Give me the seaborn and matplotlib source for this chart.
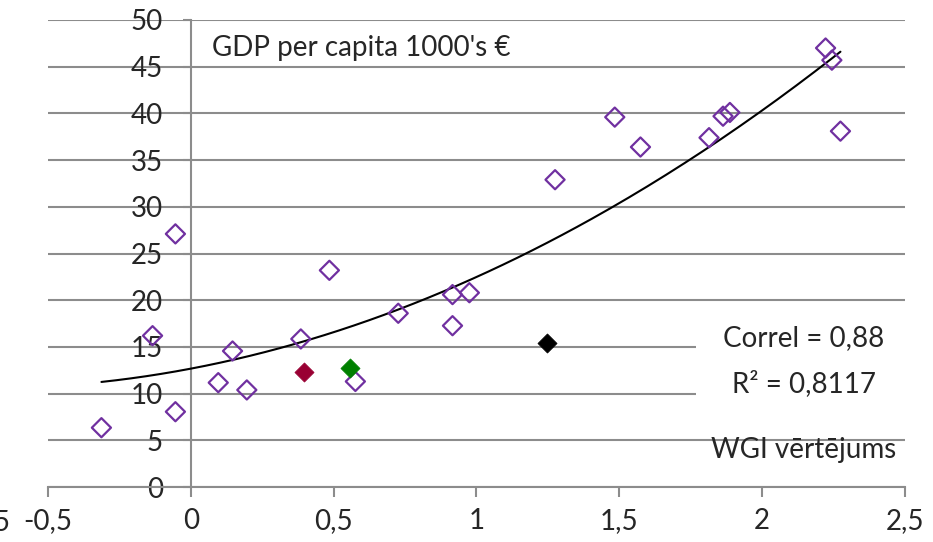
import numpy as np
import pandas as pd
import matplotlib
matplotlib.use("Agg")
import matplotlib.pyplot as plt
from matplotlib.patches import Rectangle
import seaborn as sns

# data (WGI score vs GDP per capita, 1000's EUR)

wgi = [-0.313, -0.134, -0.054, -0.054, 0.096, 0.146, 0.196, 0.385, 0.485, 0.576,
       0.726, 0.916, 0.916, 0.975, 1.275, 1.484, 1.574, 1.814, 1.863, 1.887,
       2.222, 2.244, 2.274]
gdp = [6.35, 16.2, 27.1, 8.06, 11.17, 14.56, 10.39, 15.85, 23.2, 11.3,
       18.6, 17.27, 20.6, 20.8, 32.9, 39.6, 36.4, 37.4, 39.7, 40.1,
       47.0, 45.7, 38.1]

highlight_x = [0.397, 0.556, 1.246]
highlight_y = [12.28, 12.77, 15.38]
highlight_colors = ["#990033", "#008000", "#000000"]

x_ticks = [-0.5, 0, 0.5, 1, 1.5, 2, 2.5]
x_labels = ["-0,5", "0", "0,5", "1", "1,5", "2", "2,5"]
y_ticks = list(range(0, 51, 5))

grid_color = "#8c8c8c"
purple = "#7030a0"
fs = 20

sns.set_style("white")
plt.rcParams["font.family"] = ["Lato", "DejaVu Sans"]

fig = plt.figure(figsize=(9.33, 5.42), dpi=100)
ax = fig.add_axes([48 / 933, 1 - 487 / 542, (905 - 48) / 933, (487 - 20) / 542])

# main series
df = pd.DataFrame({"wgi": wgi, "gdp": gdp})
sns.scatterplot(data=df, x="wgi", y="gdp", marker="D", s=95,
                facecolor="none", edgecolor=purple, linewidth=1.6, ax=ax, zorder=4)

# highlighted countries
for hx, hy, hc in zip(highlight_x, highlight_y, highlight_colors):
    sns.scatterplot(x=[hx], y=[hy], marker="D", s=95, color=hc,
                    edgecolor=hc, linewidth=0.5, ax=ax, zorder=5)

# 2nd order polynomial trend over all countries (Excel style trendline)
all_x = np.array(wgi + highlight_x)
all_y = np.array(gdp + highlight_y)
coef = np.polyfit(all_x, all_y, 2)
xs = np.linspace(all_x.min(), all_x.max(), 200)
trend = pd.DataFrame({"x": xs, "y": np.polyval(coef, xs)})
sns.lineplot(data=trend, x="x", y="y", color="black", linewidth=1.5, ax=ax, zorder=3)

ax.set_xlim(-0.5, 2.5)
ax.set_ylim(0, 50)
ax.set_xticks(x_ticks)
ax.set_xticklabels(x_labels)
ax.set_yticks(y_ticks)
ax.set_xlabel("")
ax.set_ylabel("")

ax.spines["left"].set_position(("data", 0))
ax.spines["right"].set_visible(False)
ax.spines["top"].set_visible(False)
for s in ["left", "bottom"]:
    ax.spines[s].set_color(grid_color)
    ax.spines[s].set_linewidth(1.5)

ax.yaxis.grid(True, color=grid_color, linewidth=1.5)
ax.set_axisbelow(True)
ax.tick_params(axis="x", direction="out", length=7, width=1.5, color=grid_color,
               labelsize=fs, pad=8, bottom=True)
ax.tick_params(axis="y", direction="out", length=6, width=1.5, color=grid_color,
               labelsize=fs, pad=14, left=True)

ax.text(0.075, 47.0, "GDP per capita 1000's €", fontsize=fs, va="center", ha="left")

# white text box behind the statistics (hides the grid lines there)
ax.add_patch(Rectangle((1.77, 8.6), 0.8, 9.6, facecolor="white", edgecolor="none",
                       zorder=2, clip_on=False))
ax.text(2.145, 15.9, "Correl = 0,88", fontsize=fs, va="center", ha="center", zorder=6)
ax.text(2.145, 11.1, "R² = 0,8117", fontsize=fs, va="center", ha="center", zorder=6)
ax.text(2.145, 4.0, "WGI vērtējums", fontsize=fs, va="center", ha="center")

# clipped label at the far left edge
fig.text(10 / 933, 1 - 522 / 542, "-0,5", fontsize=fs, ha="right", va="center")

fig.savefig("out.png", dpi=100)
